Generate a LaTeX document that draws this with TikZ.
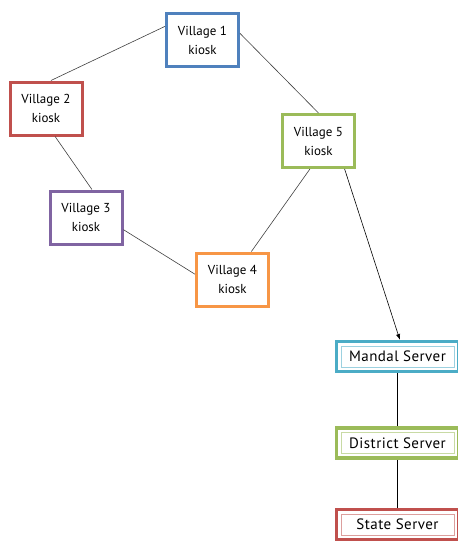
\documentclass[tikz,border=0pt]{standalone}
\usepackage{fontspec}
\setmainfont{PT Sans}
\usetikzlibrary{arrows.meta,positioning}
\definecolor{kblue}{HTML}{4F81BD}
\definecolor{kred}{HTML}{C0504D}
\definecolor{kpurple}{HTML}{8064A2}
\definecolor{korange}{HTML}{F79646}
\definecolor{kgreen}{HTML}{9BBB59}
\definecolor{kaqua}{HTML}{4BACC6}
\definecolor{wire}{HTML}{404040}

\begin{document}
\begin{tikzpicture}[x=1pt,y=1pt,>=Latex,
  kiosk/.style={draw=#1,line width=3pt,fill=white,align=center,minimum width=72pt,minimum height=53pt,inner sep=2pt,font=\fontsize{13}{19}\selectfont},
  server/.style={draw=#1,line width=3.5pt,fill=white,minimum width=122pt,minimum height=30pt,inner sep=2pt,font=\fontsize{15}{18}\selectfont\addfontfeatures{LetterSpace=3},
    path picture={\draw[#1!55,line width=0.8pt] ([shift={(4.5pt,4.5pt)}]path picture bounding box.south west) rectangle ([shift={(-4.5pt,-4.5pt)}]path picture bounding box.north east);}},
  link/.style={draw=wire,line width=0.6pt}]
\useasboundingbox (0,0) rectangle (458,-542);
% village kiosks
\node[kiosk=kblue] (v1) at (202.5,-40) {Village 1\\kiosk};
\node[kiosk=kred] (v2) at (46,-108.5) {Village 2\\kiosk};
\node[kiosk=kpurple] (v3) at (86,-217.5) {Village 3\\kiosk};
\node[kiosk=korange] (v4) at (232.5,-279.5) {Village 4\\kiosk};
\node[kiosk=kgreen] (v5) at (318.5,-141) {Village 5\\kiosk};
% server chain
\node[server=kaqua] (mandal) at (397.5,-356.5) {Mandal Server};
\node[server=kgreen,below=53pt of mandal] (district) {District Server};
\node[server=kred,below=48pt of district] (state) {State Server};
% ring of kiosks
\draw[link] (v1.160)--(v2.80);
\draw[link] (v2.-72)--(v3.78);
\draw[link] (v3.-18)--(v4.172);
\draw[link] (v4.56)--(v5.-107);
\draw[link] (v5.north)--(v1.10);
% uplink to the servers
\draw[link,->,draw=black] (v5.-47)--(mandal.82);
\draw[link,draw=black] (mandal.-92)--(district.-268);
\draw[link,draw=black] (district.-92)--(state.-268);
\end{tikzpicture}
\end{document}
